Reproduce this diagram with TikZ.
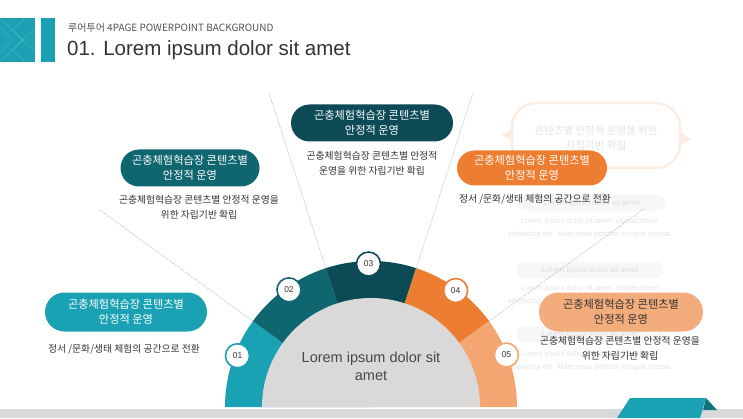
\documentclass[tikz,border=0pt]{standalone}
\usepackage{fontspec}
\setmainfont{Noto Sans CJK KR}
\newfontfamily\lat{Liberation Sans}
\usetikzlibrary{shapes.misc,calc}
\definecolor{tA}{HTML}{1BA1B4}
\definecolor{tB}{HTML}{10666F}
\definecolor{tC}{HTML}{0C4A55}
\definecolor{oA}{HTML}{ED7D31}
\definecolor{oB}{HTML}{F3A671}
\definecolor{gIn}{HTML}{D9D9D9}
\definecolor{txt}{HTML}{333333}
\begin{document}
\begin{tikzpicture}[x=1pt,y=1pt,
  pill/.style={rounded rectangle, inner sep=0pt, text=white, align=center, font=\fontsize{11.2}{15}\selectfont},
  desc/.style={text=txt, align=center, font=\fontsize{9.8}{15}\selectfont, inner sep=0pt},
  numc/.style={circle, draw=#1, line width=1.6pt, fill=white, minimum size=24pt, inner sep=0pt, font=\lat\fontsize{8.5}{10}\selectfont, text=txt},
  guide/.style={draw=gray!55, line width=0.5pt, dash pattern=on 1.5pt off 1pt},
  fpill/.style={rounded rectangle, fill=gray!6, minimum width=147pt, minimum height=16pt, inner sep=0pt, text=gray!25, font=\lat\fontsize{8}{10}\selectfont},
  ftext/.style={text=gray!20, align=center, font=\lat\fontsize{7.5}{12.5}\selectfont, inner sep=0pt}
]
\useasboundingbox (0,0) rectangle (743,418);
\fill[white] (0,0) rectangle (743,418);

% header
\fill[tA] (0,356) rectangle (35,400);
\begin{scope}
\clip (0,356) rectangle (35,400);
\draw[white, opacity=0.12, line width=1pt] (-10,400) -- (12,378) -- (-10,356);
\draw[white, opacity=0.12, line width=1pt] (0,400) -- (22,378) -- (0,356);
\draw[white, opacity=0.12, line width=1pt] (35,410) -- (13,388) -- (35,366);
\draw[white, opacity=0.12, line width=1pt] (35,390) -- (13,368) -- (35,346);
\end{scope}
\fill[tA] (41,356) rectangle (55,400);
\node[anchor=base west, inner sep=0pt, text=txt!85, font=\fontsize{10}{12}\selectfont] (sub) at (68,386) {루어투어 4PAGE POWERPOINT BACKGROUND};
\node[anchor=base west, inner sep=0pt, text=txt, font=\lat\fontsize{20.5}{24}\selectfont] (title) at (67,362) {01. Lorem ipsum dolor sit amet};

% faint background elements
\draw[oA!14, line width=2.5pt, rounded corners=24pt] (512,250) rectangle (680,315);
\fill[oA!14] (513,290) -- (502,283) -- (513,276) -- cycle;
\fill[oA!14] (679,286) -- (691,279) -- (679,272) -- cycle;
\node[text=gray!22, align=center, font=\fontsize{10.5}{15}\selectfont] (bub) at (596,280) {콘텐츠별 안정적 운영을 위한\\자립기반 확립};
\node[fpill] (fp1) at (592,215) {Lorem ipsum dolor sit amet};
\node[ftext] (ft1) at (590,190) {Lorem ipsum dolor sit amet, consectetuer\\adipiscing elit. Maecenas porttitor congue massa.};
\node[fpill] (fp2) at (590,148) {Lorem ipsum dolor sit amet};
\node[ftext] (ft2) at (590,123) {Lorem ipsum dolor sit amet, consectetuer\\adipiscing elit. Maecenas porttitor congue massa.};
\node[fpill] (fp3) at (590,84) {Lorem ipsum dolor sit amet};
\node[ftext] (ft3) at (590,57) {Lorem ipsum dolor sit amet, consectetuer\\adipiscing elit. Maecenas porttitor congue massa.};

% bottom band and ribbon
\fill[gIn] (0,0) rectangle (743,9);
\fill[tA] (617,0) -- (630,20) -- (706,20) -- (700,0) -- cycle;
\fill[tB!80!tA] (706,20) -- (717,8) -- (703,8) -- cycle;

% semicircle
\coordinate (C) at (371,11);
\fill[tA] (C) -- ++(180:146) arc[start angle=180, end angle=144, radius=146] -- cycle;
\fill[tB] (C) -- ++(144:146) arc[start angle=144, end angle=108, radius=146] -- cycle;
\fill[tC] (C) -- ++(108:146) arc[start angle=108, end angle=72, radius=146] -- cycle;
\fill[oA] (C) -- ++(72:146) arc[start angle=72, end angle=36, radius=146] -- cycle;
\fill[oB] (C) -- ++(36:146) arc[start angle=36, end angle=0, radius=146] -- cycle;
\fill[gIn] (C) -- ++(0:109) arc[start angle=0, end angle=180, radius=109] -- cycle;

% guide lines
\coordinate (b1) at ($(C)+(144:146)$); \coordinate (e1) at ($(C)+(144:335)$);
\coordinate (b2) at ($(C)+(108:146)$); \coordinate (e2) at ($(C)+(108:330)$);
\coordinate (b3) at ($(C)+(72:146)$);  \coordinate (e3) at ($(C)+(72:330)$);
\coordinate (b4) at ($(C)+(36:146)$);  \coordinate (e4) at ($(C)+(36:338)$);
\draw[guide] (b1) -- (e1);
\draw[guide] (b2) -- (e2);
\draw[guide] (b3) -- (e3);
\draw[guide] (b4) -- (e4);

% number circles
\node[numc=tA] (n1) at ($(C)+(159:143)$) {01};
\node[numc=tB] (n2) at ($(C)+(125:143)$) {02};
\node[numc=tC] (n3) at ($(C)+(91:143)$) {03};
\node[numc=oA] (n4) at ($(C)+(54:144)$) {04};
\node[numc=oB] (n5) at ($(C)+(21:145)$) {05};

\node[text=txt!90, align=center, font=\lat\fontsize{14.5}{18}\selectfont] (ct) at (371,52) {Lorem ipsum dolor sit\\amet};

% pills
\node[pill, fill=tA, minimum width=162pt, minimum height=39pt] (p1) at (126,106) {곤충체험혁습장 콘텐츠별\\안정적 운영};
\node[desc] (d1) at (124,69) {정서 /문화/생태 체험의 공간으로 전환};

\node[pill, fill=tB, minimum width=139pt, minimum height=37pt] (p2) at (190,250) {곤충체험혁습장 콘텐츠별\\안정적 운영};
\node[desc] (d2) at (199,211) {곤충체험혁습장 콘텐츠별 안정적 운영을\\위한 자립기반 확립};

\node[pill, fill=tC, minimum width=162pt, minimum height=37pt] (p3) at (372,295) {곤충체험혁습장 콘텐츠별\\안정적 운영};
\node[desc] (d3) at (372,255) {곤충체험혁습장 콘텐츠별 안정적\\운영을 위한 자립기반 확립};

\node[pill, fill=oA, minimum width=150pt, minimum height=35pt] (p4) at (532,250) {곤충체험혁습장 콘텐츠별\\안정적 운영};
\node[desc] (d4) at (535,219) {정서 /문화/생태 체험의 공간으로 전환};

\node[pill, fill=oB, fill opacity=0.92, text opacity=1, text=txt, minimum width=164pt, minimum height=39pt] (p5) at (621,106) {곤충체험혁습장 콘텐츠별\\안정적 운영};
\node[desc] (d5) at (620,70) {곤충체험혁습장 콘텐츠별 안정적 운영을\\위한 자립기반 확립};
\end{tikzpicture}
\end{document}
